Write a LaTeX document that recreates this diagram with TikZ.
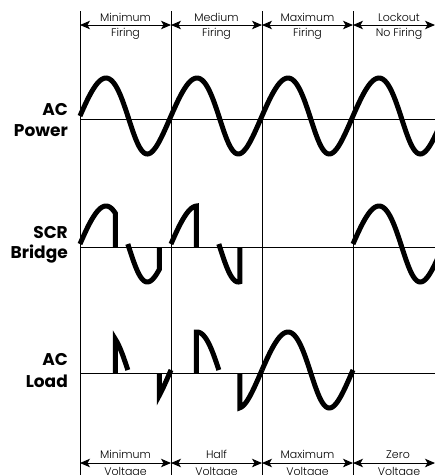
\documentclass[tikz,border=0pt]{standalone}
\usepackage{fontspec}
\IfFontExistsTF{Poppins Light}{\newfontfamily\lightf{Poppins Light}}{\newfontfamily\lightf{Poppins}}
\IfFontExistsTF{Poppins Bold}{\newfontfamily\boldf{Poppins Bold}}{\newfontfamily\boldf{Poppins}[FakeBold=1.5]}
\usetikzlibrary{arrows.meta}
\tikzset{
  guide/.style={line width=0.9pt},
  axisline/.style={line width=0.8pt},
  wave/.style={line width=5pt},
  dimline/.style={line width=0.9pt,{Stealth[length=10pt,width=8.5pt,inset=2.5pt]}-{Stealth[length=10pt,width=8.5pt,inset=2.5pt]}},
  smalllab/.style={font=\lightf\fontsize{11}{13}\selectfont,inner sep=0pt,anchor=base},
  rowlab/.style={font=\boldf\fontsize{17}{20}\selectfont,inner sep=0pt,anchor=base east}
}
\begin{document}
\begin{tikzpicture}[x=1pt,y=-1pt,
  declare function={wx(\t)=\t/360*91+2.1*sin(\t)+1.15*(1-cos(\t)); wy(\t)=3+38*sin(\t);}]
\useasboundingbox (0,0) rectangle (435,475);
\clip (0,0) rectangle (435,475);
% vertical guides
\foreach \i/\x in {1/80,2/171,3/262,4/353}{
  \coordinate (v\i t) at (\x,11);
  \coordinate (v\i b) at (\x,475);
  \draw[guide] (v\i t) -- (v\i b);
}
% axes
\foreach \n/\y in {P/119,S/247,L/373}{
  \coordinate (ax\n l) at (80,\y);
  \coordinate (ax\n r) at (435,\y);
  \draw[axisline] (ax\n l) -- (ax\n r);
}
% dimension arrows
\foreach \i/\x in {0/80,1/171,2/262,3/353,4/435}{
  \coordinate (a\i) at (\x,25);
  \coordinate (b\i) at (\x,463);
}
\draw[dimline] (a0) -- (a1);
\draw[dimline] (a1) -- (a2);
\draw[dimline] (a2) -- (a3);
\draw[dimline] (a3) -- (a4);
\draw[dimline] (b0) -- (b1);
\draw[dimline] (b1) -- (b2);
\draw[dimline] (b2) -- (b3);
\draw[dimline] (b3) -- (b4);
% top labels
\node[smalllab] (t1a) at (125.5,21) {Minimum};
\node[smalllab] (t1b) at (125.5,36.5) {Firing};
\node[smalllab] (t2a) at (216.5,21) {Medium};
\node[smalllab] (t2b) at (216.5,36.5) {Firing};
\node[smalllab] (t3a) at (307.5,21) {Maximum};
\node[smalllab] (t3b) at (307.5,36.5) {Firing};
\node[smalllab] (t4a) at (399,21) {Lockout};
\node[smalllab] (t4b) at (399,36.5) {No Firing};
% bottom labels
\node[smalllab] (u1a) at (125.5,458) {Minimum};
\node[smalllab] (u1b) at (125.5,475) {Voltage};
\node[smalllab] (u2a) at (216.5,458) {Half};
\node[smalllab] (u2b) at (216.5,475) {Voltage};
\node[smalllab] (u3a) at (307.5,458) {Maximum};
\node[smalllab] (u3b) at (307.5,475) {Voltage};
\node[smalllab] (u4a) at (398,458) {Zero};
\node[smalllab] (u4b) at (399,475) {Voltage};
% row labels
\node[rowlab] (r1a) at (68,115) {AC};
\node[rowlab] (r1b) at (68,136) {Power};
\node[rowlab] (r2a) at (68,238) {SCR};
\node[rowlab] (r2b) at (68,258) {Bridge};
\node[rowlab] (r3a) at (68,365) {AC};
\node[rowlab] (r3b) at (68,387) {Load};
% AC power
\draw[wave] plot[domain=0:1440,samples=240,variable=\t] ({80+wx(\t)},{119-wy(\t)});
% SCR bridge
\draw[wave] plot[domain=0:126,samples=40,variable=\t] ({80+wx(\t)},{247-wy(\t)}) -- ({80+wx(126)},247);
\draw[wave] plot[domain=180:318,samples=40,variable=\t] ({80+wx(\t)},{247-wy(\t)}) -- ({80+wx(318)},247);
\draw[wave] plot[domain=0:88,samples=30,variable=\t] ({171+wx(\t)},{247-wy(\t)}) -- ({171+wx(88)},247);
\draw[wave] plot[domain=180:277,samples=30,variable=\t] ({171+wx(\t)},{247-wy(\t)}) -- ({171+wx(277)},247);
\draw[wave] plot[domain=0:360,samples=80,variable=\t] ({353+wx(\t)},{247-wy(\t)});
% AC load
\draw[wave] ({80+wx(126)},373) -- plot[domain=126:180,samples=20,variable=\t] ({80+wx(\t)},{373-wy(\t)});
\draw[wave] ({80+wx(318)},373) -- plot[domain=318:360,samples=20,variable=\t] ({80+wx(\t)},{373-wy(\t)});
\draw[wave] ({171+wx(88)},373) -- plot[domain=88:180,samples=30,variable=\t] ({171+wx(\t)},{373-wy(\t)});
\draw[wave] ({171+wx(277)},373) -- plot[domain=277:360,samples=30,variable=\t] ({171+wx(\t)},{373-wy(\t)});
\draw[wave] plot[domain=0:360,samples=80,variable=\t] ({262+wx(\t)},{373-wy(\t)});
\end{tikzpicture}
\end{document}
